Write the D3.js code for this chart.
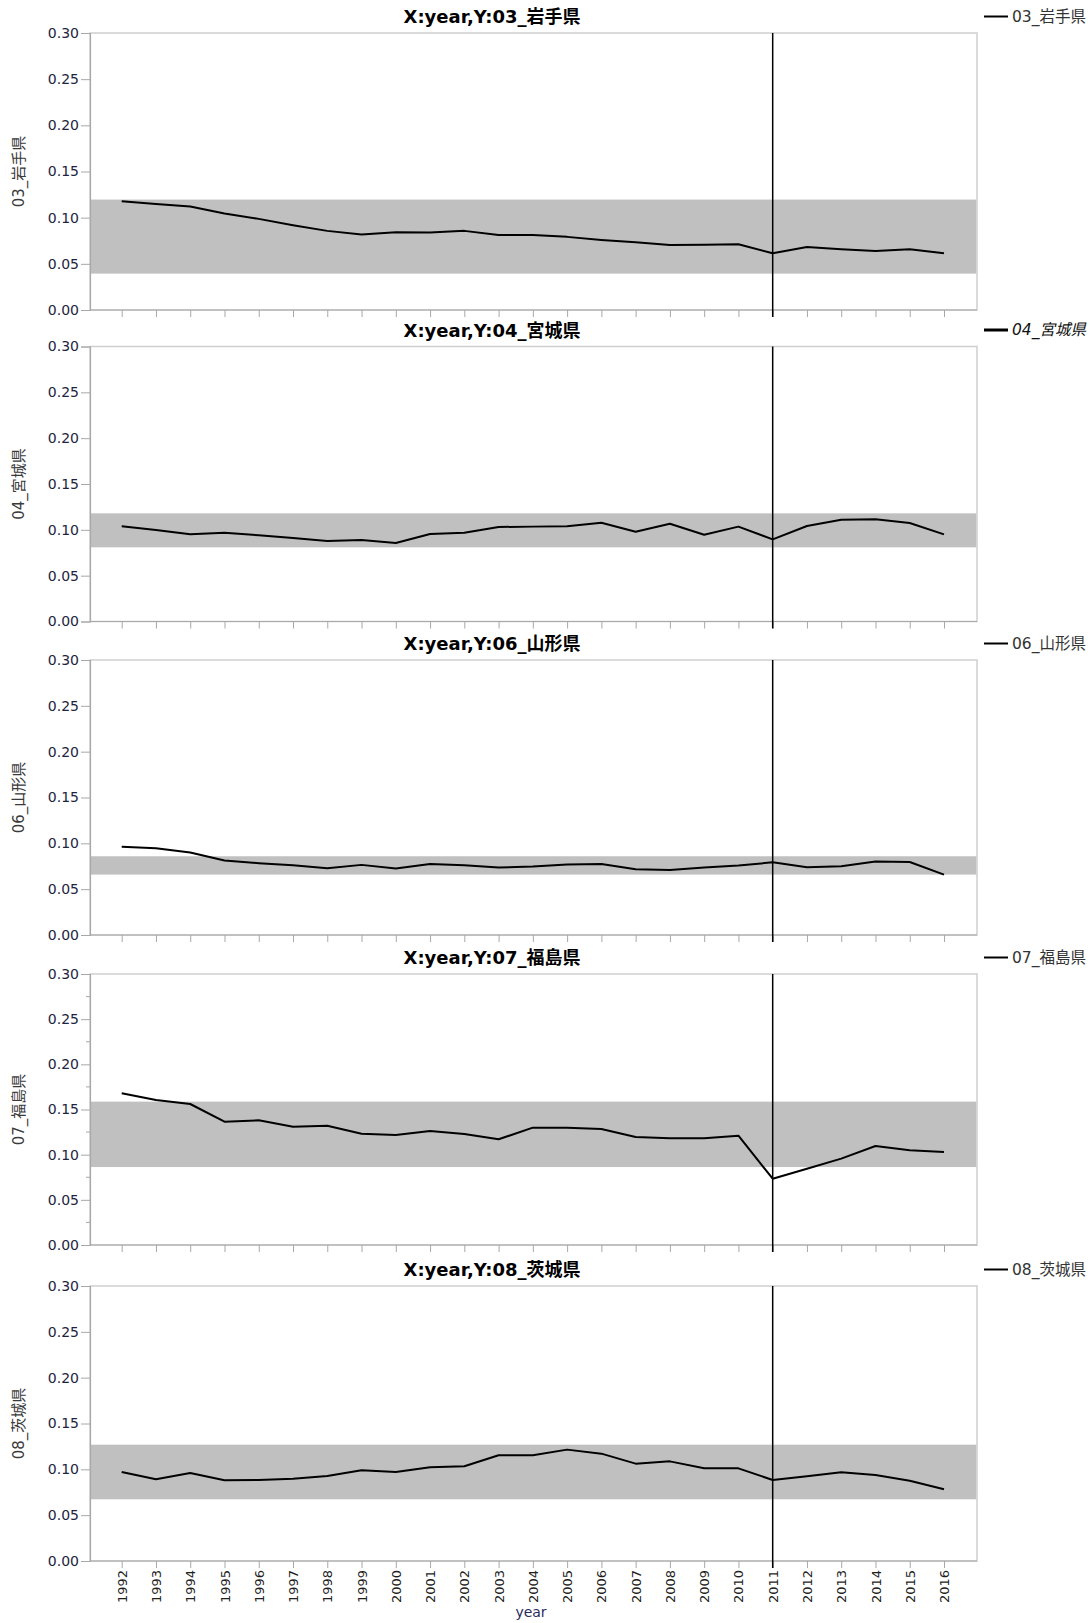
<!DOCTYPE html>
<html>
<head>
<meta charset="utf-8">
<script src="https://cdn.jsdelivr.net/npm/d3@7"></script>
<style>
  html, body { margin: 0; padding: 0; background: #fff; }
  svg text { font-family: "DejaVu Sans", "Noto Sans CJK JP", sans-serif; }
</style>
</head>
<body>
<svg id="chart" width="1090" height="1623"></svg>
<script>
// Years on the shared x axis
const years = [1992,1993,1994,1995,1996,1997,1998,1999,2000,2001,2002,2003,2004,
               2005,2006,2007,2008,2009,2010,2011,2012,2013,2014,2015,2016];

// Prefecture names (one panel each)
const prefectures = ["03_岩手県", "04_宮城県", "06_山形県", "07_福島県", "08_茨城県"];

// Yearly values per prefecture
const iwate     = [0.1178,0.1149,0.1120,0.1045,0.0987,0.0918,0.0857,0.0817,0.0842,0.0839,0.0857,0.0813,0.0813,
                   0.0792,0.0759,0.0734,0.0705,0.0708,0.0712,0.0614,0.0683,0.0658,0.0640,0.0658,0.0614];
const miyagi    = [0.1038,0.0998,0.0951,0.0969,0.0940,0.0911,0.0878,0.0889,0.0856,0.0955,0.0969,0.1031,0.1035,
                   0.1038,0.1078,0.0980,0.1067,0.0947,0.1035,0.0896,0.1042,0.1111,0.1115,0.1075,0.0951];
const yamagata  = [0.0964,0.0946,0.0899,0.0812,0.0783,0.0761,0.0728,0.0765,0.0725,0.0775,0.0761,0.0736,0.0746,
                   0.0768,0.0775,0.0717,0.0710,0.0736,0.0757,0.0793,0.0739,0.0750,0.0801,0.0797,0.0659];
const fukushima = [0.1679,0.1605,0.1561,0.1365,0.1380,0.1310,0.1321,0.1232,0.1218,0.1262,0.1229,0.1170,0.1299,
                   0.1299,0.1284,0.1196,0.1181,0.1181,0.1210,0.0734,0.0845,0.0956,0.1096,0.1048,0.1030];
const ibaraki   = [0.0971,0.0891,0.0960,0.0880,0.0884,0.0898,0.0927,0.0989,0.0971,0.1022,0.1033,0.1153,0.1153,
                   0.1215,0.1171,0.1062,0.1087,0.1011,0.1011,0.0884,0.0924,0.0967,0.0938,0.0876,0.0782];

// Shaded reference band per prefecture: [lower, upper]
const bandLow  = [0.0394, 0.0809, 0.0659, 0.0863, 0.0673];
const bandHigh = [0.1196, 0.1180, 0.0859, 0.1587, 0.1269];

// Y tick labels and the marked year
const yTicks = [0.00, 0.05, 0.10, 0.15, 0.20, 0.25, 0.30];
const markerYear = 2011;

const seriesList = [iwate, miyagi, yamagata, fukushima, ibaraki];

// ---- layout ----
const svg = d3.select("#chart");
const plotLeft = 90, plotRight = 977;
const panelBox = [[33, 310], [346.5, 621.5], [660, 935], [974, 1245], [1286, 1561]];
const FONT = '"DejaVu Sans", "Noto Sans CJK JP", sans-serif';

const x = d3.scaleLinear().domain([1992, 2016]).range([121.7, 944]);

panelBox.forEach(([top, bottom], i) => {
  const name = prefectures[i];
  const values = seriesList[i];
  const isLast = i === panelBox.length - 1;
  const y = d3.scaleLinear().domain([0, 0.30]).range([bottom, top]);
  const g = svg.append("g");

  // plot background + frame
  g.append("rect")
    .attr("x", plotLeft).attr("y", top)
    .attr("width", plotRight - plotLeft).attr("height", bottom - top)
    .attr("fill", "#fff").attr("stroke", "#cfcfcf").attr("stroke-width", 1.5);

  // reference band
  g.append("rect")
    .attr("x", plotLeft + 0.75).attr("width", plotRight - plotLeft - 1.5)
    .attr("y", y(bandHigh[i])).attr("height", y(bandLow[i]) - y(bandHigh[i]))
    .attr("fill", "#c0c0c0");

  // y axis
  const yAxis = d3.axisLeft(y).tickValues(yTicks).tickFormat(d3.format(".2f"))
    .tickSize(9).tickPadding(2);
  const ya = g.append("g").attr("transform", `translate(${plotLeft},0)`).call(yAxis);
  ya.select(".domain").attr("stroke", "#a8a8a8").attr("stroke-width", 1.2);
  ya.selectAll(".tick line").attr("stroke", "#a8a8a8");
  ya.selectAll(".tick text").attr("fill", "#1e2440")
    .style("font-size", "14px").style("font-family", FONT);

  // minor ticks on the 07 panel
  if (i === 3) {
    const minor = d3.range(0.025, 0.3, 0.05);
    g.selectAll(".minor").data(minor).join("line")
      .attr("x1", plotLeft - 4).attr("x2", plotLeft)
      .attr("y1", d => y(d)).attr("y2", d => y(d))
      .attr("stroke", "#a8a8a8");
  }

  // x axis
  const xAxis = d3.axisBottom(x).tickValues(years).tickSize(7)
    .tickFormat(isLast ? d3.format("d") : () => "");
  const xa = g.append("g").attr("transform", `translate(0,${bottom})`).call(xAxis);
  xa.select(".domain").remove();
  xa.selectAll(".tick line").attr("stroke", "#a8a8a8");
  g.append("line").attr("x1", plotLeft).attr("x2", plotRight)
    .attr("y1", bottom).attr("y2", bottom).attr("stroke", "#a8a8a8").attr("stroke-width", 1.2);
  if (isLast) {
    xa.selectAll(".tick text")
      .attr("transform", "rotate(-90)")
      .attr("text-anchor", "end")
      .attr("x", -9).attr("y", 0).attr("dy", "0.35em")
      .attr("fill", "#1e1e1e")
      .style("font-size", "13px").style("font-family", FONT);
  }

  // marker year line
  g.append("line")
    .attr("x1", x(markerYear)).attr("x2", x(markerYear))
    .attr("y1", top).attr("y2", bottom + 7)
    .attr("stroke", "#000").attr("stroke-width", 1.5);

  // series line
  const line = d3.line().x((d, k) => x(years[k])).y(d => y(d));
  g.append("path").datum(values)
    .attr("d", line).attr("fill", "none")
    .attr("stroke", "#000").attr("stroke-width", 2).attr("stroke-linejoin", "round");

  // title
  g.append("text")
    .attr("x", 492).attr("y", top - 10)
    .attr("text-anchor", "middle")
    .attr("font-weight", "bold").style("font-size", "18px")
    .attr("fill", "#000")
    .text(`X:year,Y:${name}`);

  // y axis title
  g.append("text")
    .attr("transform", `translate(19,${(top + bottom) / 2}) rotate(-90)`)
    .attr("text-anchor", "middle").attr("dy", "0.35em")
    .style("font-size", "15px").attr("fill", "#3a3a3a")
    .text(name);

  // legend
  const ly = top - 16.5;
  const selected = i === 1;
  g.append("line").attr("x1", 984).attr("x2", 1008).attr("y1", ly).attr("y2", ly)
    .attr("stroke", "#000").attr("stroke-width", selected ? 3 : 2);
  g.append("text").attr("x", 1012).attr("y", ly).attr("dy", "0.35em")
    .style("font-size", "15.5px")
    .attr("font-style", selected ? "italic" : "normal")
    .attr("fill", selected ? "#111" : "#333")
    .text(name);
});

// x axis title
svg.append("text")
  .attr("x", 531).attr("y", 1617)
  .attr("text-anchor", "middle")
  .style("font-size", "14px").attr("fill", "#2a2a60")
  .text("year");
</script>
</body>
</html>
